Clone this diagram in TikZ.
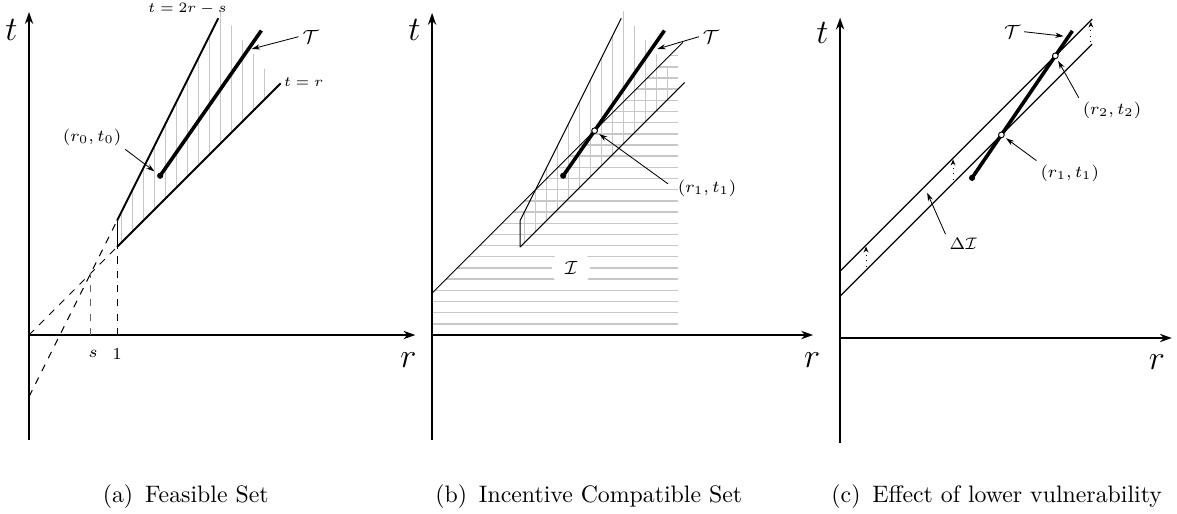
\documentclass[tikz,border=0pt]{standalone}
\usetikzlibrary{arrows.meta}
\begin{document}
\begin{tikzpicture}[
  x=36.96pt, y=36.96pt,
  axis/.style={line width=0.7pt, -{Stealth[length=5pt,width=3.5pt]}},
  bound/.style={line width=0.8pt},
  thinbound/.style={line width=0.4pt},
  midbound/.style={line width=0.55pt},
  tauline/.style={line width=1.5pt},
  hatch/.style={draw=black!22, line width=0.6pt},
  ptr/.style={-{Stealth[length=3.5pt,width=2.2pt]}, line width=0.35pt},
  lift/.style={dotted, line width=0.4pt, -{Stealth[length=2.5pt,width=2pt]}},
  dot/.style={circle, fill, inner sep=0pt, minimum size=2.6pt},
  odot/.style={circle, draw, fill=white, inner sep=0pt, minimum size=2.4pt, line width=0.4pt},
  lbl/.style={font=\scriptsize, inner sep=1.5pt},
  tinylbl/.style={font=\fontsize{6}{7}\selectfont, inner sep=1pt},
  taulbl/.style={font=\footnotesize, inner sep=1.5pt},
  axlbl/.style={font=\Large},
]
\useasboundingbox (-0.33,-2.023) rectangle (13.045,3.807);

% ---- (a) feasible set ----
\begin{scope}
  \draw[axis] (0,-1.19) -- (0,3.67);
  \draw[axis] (0,0) -- (4.39,0);
  \node[axlbl] (ta) at (-0.2,3.47) {$t$};
  \node[axlbl] (ra) at (4.31,-0.28) {$r$};

  \begin{scope}
    \clip (1,1) -- (1,1.3) -- (2.15,3.6) -- (2.15,3.71) -- (2.83,2.83) -- cycle;
    \foreach \x in {1.05,1.175,...,2.7} \draw[hatch] (\x,0.9) -- (\x,3.8);
  \end{scope}

  \draw[dashed] (0,0) -- (1,1);
  \draw[dashed] (0,-0.7) -- (1,1.3);
  \draw[dashed, black!60] (0.7,0) -- (0.7,0.7);
  \draw[dashed] (1,0) -- (1,1);
  \draw[thinbound] (1,1) -- (1,1.3);
  \draw[bound] (1,1.3) -- (2.15,3.6);
  \draw[bound] (1,1) -- (2.86,2.86);

  \coordinate (t0a) at (1.49,1.81);
  \coordinate (t1a) at (2.64,3.46);
  \draw[tauline] (t0a) -- (t1a);
  \node[dot] (p0a) at (t0a) {};

  \node[tinylbl] (l2rs) at (1.8,3.71) {$t=2r-s$};
  \node[tinylbl] (lra) at (3.12,2.875) {$t=r$};
  \node[lbl] (ls) at (0.727,-0.216) {$s$};
  \node[lbl] (l1) at (1,-0.216) {$1$};

  \node[lbl] (lr0) at (0.716,2.25) {$(r_0,t_0)$};
  \draw[ptr, shorten >=1.5pt] (lr0.south east) -- (p0a);
  \node[taulbl] (tauA) at (3.2,3.39) {$\mathcal{T}$};
  \coordinate (tipA) at (2.53,3.25);
  \draw[ptr] (tauA.west) -- (tipA);

  \node (capa) at (1.78,-1.83) {(a)\enspace Feasible Set};
\end{scope}

% ---- (b) incentive compatible set ----
\begin{scope}[shift={(4.58,0)}]
  \begin{scope}
    \clip (0,0) -- (0,0.475) -- (2.8,3.275) -- (2.8,0) -- cycle;
    \foreach \k in {1,...,25} \draw[hatch] (0,\k*0.127) -- (2.8,\k*0.127);
  \end{scope}
  \begin{scope}
    \clip (1,1) -- (1,1.3) -- (2.15,3.6) -- (2.15,3.71) -- (2.83,2.83) -- cycle;
    \foreach \x in {1.05,1.175,...,2.7} \draw[hatch] (\x,0.9) -- (\x,3.8);
  \end{scope}

  \draw[axis] (0,-1.19) -- (0,3.66);
  \draw[axis] (0,0) -- (4.33,0);
  \node[axlbl] (tb) at (-0.2,3.47) {$t$};
  \node[axlbl] (rb) at (4.32,-0.28) {$r$};

  \coordinate (i0b) at (0,0.475);
  \coordinate (i1b) at (2.85,3.325);
  \draw[thinbound] (i0b) -- (i1b);
  \draw[thinbound] (1,1) -- (1,1.3) -- (2.15,3.6);
  \draw[thinbound] (1,1) -- (2.87,2.87);

  \node[fill=white, rounded corners=4pt, minimum width=16pt, minimum height=11pt,
        font=\footnotesize] (Ib) at (1.58,0.76) {$\mathcal{I}$};

  \coordinate (t0b) at (1.49,1.81);
  \coordinate (t1b) at (2.64,3.46);
  \draw[tauline] (t0b) -- (t1b);
  \node[dot] (p0b) at (t0b) {};
  \node[odot] (p1b) at (intersection of t0b--t1b and i0b--i1b) {};

  \node[taulbl] (tauB) at (3.17,3.39) {$\mathcal{T}$};
  \coordinate (tipB) at (2.56,3.25);
  \draw[ptr] (tauB.west) -- (tipB);
  \node[lbl] (lr1b) at (3.125,1.67) {$(r_1,t_1)$};
  \draw[ptr, shorten <=3pt, shorten >=1pt] (lr1b.west) -- (p1b);

  \node (capb) at (1.78,-1.83) {(b)\enspace Incentive Compatible Set};
\end{scope}

% ---- (c) lower vulnerability ----
\begin{scope}[shift={(9.216,-0.034)}]
  \draw[axis] (0,-1.19) -- (0,3.64);
  \draw[axis] (0,0) -- (3.77,0);
  \node[axlbl] (tc) at (-0.2,3.47) {$t$};
  \node[axlbl] (rc) at (3.6,-0.27) {$r$};

  \coordinate (lo0) at (0,0.475);
  \coordinate (lo1) at (2.864,3.339);
  \coordinate (up0) at (0,0.76);
  \coordinate (up1) at (2.864,3.624);
  \draw[midbound] (lo0) -- (lo1);
  \draw[midbound] (up0) -- (up1);
  \foreach \x in {0.295,1.284,2.85} \draw[lift] (\x,\x+0.51) -- (\x,\x+0.745);

  \coordinate (t0c) at (1.5,1.82);
  \coordinate (t1c) at (2.64,3.49);
  \draw[tauline] (t0c) -- (t1c);
  \node[dot] (p0c) at (t0c) {};
  \node[odot] (p1c) at (intersection of t0c--t1c and lo0--lo1) {};
  \node[odot] (p2c) at (intersection of t0c--t1c and up0--up1) {};

  \node[taulbl] (tauC) at (1.955,3.48) {$\mathcal{T}$};
  \coordinate (tipC) at (2.54,3.43);
  \draw[ptr] (tauC.east) -- (tipC);
  \node[lbl] (lr2c) at (3.09,2.59) {$(r_2,t_2)$};
  \draw[ptr, shorten >=1pt] (lr2c.north west) -- (p2c);
  \node[lbl] (lr1c) at (2.61,1.875) {$(r_1,t_1)$};
  \draw[ptr, shorten >=1pt] (lr1c.north west) -- (p1c);
  \node[lbl] (ldI) at (1.4,1.07) {$\Delta\mathcal{I}$};
  \coordinate (tipD) at (0.99,1.65);
  \draw[ptr] (ldI.north west) -- (tipD);

  \node (capc) at (1.78,-1.80) {(c)\enspace Effect of lower vulnerability};
\end{scope}
\end{tikzpicture}
\end{document}
